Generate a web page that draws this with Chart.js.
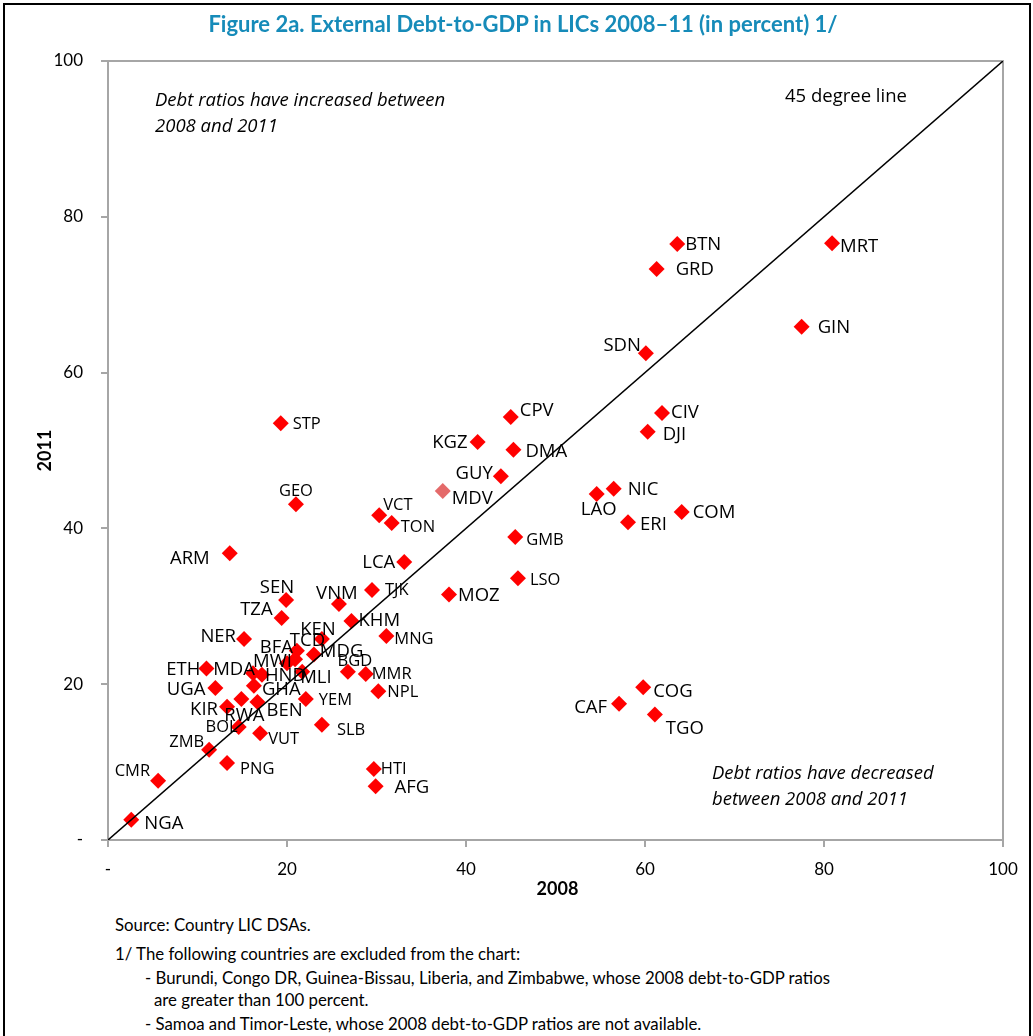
<!DOCTYPE html>
<html>
<head>
<meta charset="utf-8">
<script src="https://cdn.jsdelivr.net/npm/chart.js@4.4.0/dist/chart.umd.min.js"></script>
<style>
  body { margin: 0; background: #fff; width: 1033px; height: 1036px; overflow: hidden; position: relative; }
  #frame { position: absolute; left: 3px; top: 3px; width: 1024px; height: 1040px; border: 2px solid #000; }
  #title { position: absolute; left: 0; top: 10px; width: 1046px; text-align: center; font: bold 22px Lato, sans-serif; color: #168bb9; }
  #chart { position: absolute; left: 0; top: 0; }
  .note { position: absolute; font: 16.8px Lato, sans-serif; color: #000; white-space: nowrap; line-height: 20px; }
</style>
</head>
<body>
<div id="frame"></div>
<canvas id="chart" width="1033" height="900"></canvas>
<div id="title">Figure 2a. External Debt-to-GDP in LICs 2008–11 (in percent) 1/</div>
<div class="note" style="left:115px; top:915px;">Source: Country LIC DSAs.</div>
<div class="note" style="left:115px; top:944px;">1/ The following countries are excluded from the chart:</div>
<div class="note" style="left:145px; top:968px;">- Burundi, Congo DR, Guinea-Bissau, Liberia, and Zimbabwe, whose 2008 debt-to-GDP ratios</div>
<div class="note" style="left:154px; top:990px;">are greater than 100 percent.</div>
<div class="note" style="left:145px; top:1014px;">- Samoa and Timor-Leste, whose 2008 debt-to-GDP ratios are not available.</div>
<script>
// country codes, external debt-to-GDP 2008 (x) and 2011 (y), percent
const countries = ['BTN','MRT','GRD','GIN','SDN','CPV','CIV','DJI','KGZ','DMA','STP','GUY','MDV','NIC','LAO','GEO','VCT','TON','ERI','COM','GMB','ARM','LCA','LSO','TJK','MOZ','SEN','VNM','TZA','KHM','MNG','NER','KEN','TCD','BFA','MDG','MWI','HND','MDA','MLI','ETH','BGD','MMR','UGA','GHA','NPL','YEM','KIR','RWA','BEN','BOL','SLB','VUT','ZMB','PNG','HTI','AFG','CMR','NGA','CAF','COG','TGO'];
const debt2008 = [63.6,80.9,61.3,77.5,60.1,45.0,61.9,60.3,41.3,45.3,19.3,43.9,37.4,56.5,54.6,21.0,30.3,31.7,58.1,64.1,45.5,13.6,33.1,45.8,29.5,38.1,19.9,25.8,19.4,27.2,31.1,15.2,23.9,21.1,20.9,23.0,20.0,17.2,16.2,21.7,11.0,26.8,28.8,12.0,16.3,30.2,22.1,13.3,14.9,16.7,14.6,23.9,17.0,11.3,13.3,29.7,29.9,5.6,2.6,57.1,59.8,61.1];
const debt2011 = [76.5,76.6,73.3,65.9,62.5,54.3,54.8,52.4,51.1,50.1,53.5,46.7,44.8,45.1,44.4,43.1,41.7,40.7,40.8,42.1,38.9,36.8,35.7,33.6,32.1,31.5,30.8,30.3,28.5,28.1,26.2,25.8,25.8,24.3,23.2,23.8,22.7,21.2,21.4,21.6,22.0,21.6,21.3,19.5,19.8,19.1,18.1,17.1,18.1,17.7,14.5,14.8,13.7,11.6,9.9,9.1,6.9,7.6,2.6,17.5,19.6,16.1];
const lineX = [0, 100];
const lineY = [0, 100];
const axisTicks = [0, 20, 40, 60, 80, 100];

// label placement: [dx, dy, align, size]  (l = text starts at dx, r = text ends at dx, c = centred)
const labelPos = {
  BTN:[8,1,'l','L'], MRT:[8,3,'l','L'], GRD:[19,1,'l','L'], GIN:[16,1,'l','L'], SDN:[-5,-7,'r','L'],
  CPV:[9,-6,'l','L'], CIV:[9,0,'l','L'], DJI:[15,3,'l','L'], KGZ:[-10,1,'r','L'], DMA:[12,2,'l','L'],
  STP:[12,1,'l','s'], GUY:[-8,-2,'r','L'], MDV:[9,8,'l','L'], NIC:[14,1,'l','L'], LAO:[2,16,'c','L'],
  GEO:[0,-13,'c','s'], VCT:[4,-10,'l','s'], TON:[9,4,'l','s'], ERI:[12,3,'l','L'], COM:[11,1,'l','L'],
  GMB:[11,3,'l','s'], ARM:[-20,5,'r','L'], LCA:[-9,1,'r','L'], LSO:[12,2,'l','s'], TJK:[13,0,'l','s'],
  MOZ:[9,1,'l','L'], SEN:[8,-12,'r','L'], VNM:[-2,-10,'c','L'], TZA:[-9,-8,'r','L'], KHM:[7,0,'l','L'],
  MNG:[8,3,'l','s'], NER:[-8,-2,'r','L'], KEN:[-4,-9,'c','L'], TCD:[-7,-10,'l','L'], BFA:[-2,-12,'r','L'],
  MDG:[6,-3,'l','L'], MWI:[5,-1,'r','L'], HND:[3,1,'l','L'], MDA:[2,-4,'r','L'], MLI:[-2,6,'l','L'],
  ETH:[-6,1,'r','L'], BGD:[7,-10,'c','s'], MMR:[6,0,'l','s'], UGA:[-10,2,'r','L'], GHA:[8,4,'l','L'],
  NPL:[9,1,'l','s'], YEM:[13,1,'l','s'], KIR:[-9,3,'r','L'], RWA:[3,17,'c','L'], BEN:[9,9,'l','L'],
  BOL:[-1,0,'r','s'], SLB:[15,6,'l','s'], VUT:[8,6,'l','s'], ZMB:[-5,-7,'r','s'], PNG:[13,6,'l','s'],
  HTI:[7,0,'l','s'], AFG:[19,1,'l','L'], CMR:[-8,-9,'r','s'], NGA:[13,4,'l','L'], CAF:[-12,4,'r','L'],
  COG:[10,4,'l','L'], TGO:[11,14,'l','L']
};

const labelFont = { L: '18.5px "Open Sans", sans-serif', s: '16.5px "Open Sans", sans-serif' };

const extras = {
  id: 'extras',
  beforeDatasetsDraw(chart) {
    const { ctx, chartArea: a } = chart;
    ctx.save();
    ctx.strokeStyle = '#a6a6a6';
    ctx.lineWidth = 2;
    ctx.beginPath();
    ctx.moveTo(a.left, a.top);
    ctx.lineTo(a.right, a.top);
    ctx.lineTo(a.right, a.bottom);
    ctx.stroke();
    ctx.restore();
  },
  afterDatasetsDraw(chart) {
    const { ctx, chartArea: a } = chart;
    const meta = chart.getDatasetMeta(1);
    ctx.save();
    ctx.fillStyle = '#000';
    ctx.textBaseline = 'middle';
    meta.data.forEach((pt, i) => {
      const p = labelPos[countries[i]];
      ctx.font = labelFont[p[3]];
      ctx.textAlign = p[2] === 'l' ? 'left' : p[2] === 'r' ? 'right' : 'center';
      ctx.fillText(countries[i], pt.x + p[0], pt.y + p[1]);
    });

    ctx.textAlign = 'left';
    ctx.font = 'italic 18.5px "Open Sans", sans-serif';
    ctx.fillText('Debt ratios have increased between', a.left + 47, a.top + 40);
    ctx.fillText('2008 and 2011', a.left + 47, a.top + 66);
    ctx.fillText('Debt ratios have decreased', a.left + 604, a.top + 713);
    ctx.fillText('between 2008 and 2011', a.left + 604, a.top + 739);
    ctx.font = '18.5px "Open Sans", sans-serif';
    ctx.fillText('45 degree line', a.left + 677, a.top + 36);

    // axis titles
    ctx.font = 'bold 18px Lato, sans-serif';
    ctx.textAlign = 'center';
    ctx.fillText('2008', (a.left + a.right) / 2 + 2, a.bottom + 49);
    ctx.translate(45, (a.top + a.bottom) / 2 + 0);
    ctx.rotate(-Math.PI / 2);
    ctx.fillText('2011', 0, 0);
    ctx.restore();
  }
};

const ctx = document.getElementById('chart').getContext('2d');
new Chart(ctx, {
  type: 'scatter',
  data: {
    datasets: [
      {
        label: '45 degree line',
        data: lineX.map((x, i) => ({ x: x, y: lineY[i] })),
        showLine: true,
        borderColor: '#000',
        borderWidth: 1.5,
        pointRadius: 0
      },
      {
        label: 'Countries',
        data: debt2008.map((x, i) => ({ x: x, y: debt2011[i] })),
        pointStyle: 'rectRot',
        pointRadius: 8,
        pointBorderWidth: 0,
        pointBackgroundColor: countries.map(c => c === 'MDV' ? '#e46a6a' : '#ff0000'),
        pointBorderColor: countries.map(c => c === 'MDV' ? '#e46a6a' : '#ff0000')
      }
    ]
  },
  options: {
    responsive: false,
    animation: false,
    devicePixelRatio: 1,
    layout: { padding: { top: 61, right: 30, left: 0, bottom: 0 } },
    plugins: { legend: { display: false }, tooltip: { enabled: false } },
    scales: {
      x: {
        type: 'linear', min: 0, max: 100,
        afterBuildTicks: s => { s.ticks = axisTicks.map(v => ({ value: v })); },
        afterFit: s => { s.height = 60; },
        ticks: {
          callback: v => v === 0 ? '-' : v,
          font: { family: 'Lato', size: 17 },
          color: '#000',
          padding: 12,
          maxRotation: 0
        },
        grid: { drawOnChartArea: false, tickLength: 7, color: '#a6a6a6', lineWidth: 2 },
        border: { color: '#a6a6a6', width: 2 }
      },
      y: {
        type: 'linear', min: 0, max: 100,
        afterBuildTicks: s => { s.ticks = axisTicks.map(v => ({ value: v })); },
        afterFit: s => { s.width = 108; },
        ticks: {
          callback: v => v === 0 ? '-' : v,
          font: { family: 'Lato', size: 17 },
          color: '#000',
          padding: 18
        },
        grid: { drawOnChartArea: false, tickLength: 7, color: '#a6a6a6', lineWidth: 2 },
        border: { color: '#a6a6a6', width: 2 }
      }
    }
  },
  plugins: [extras]
});
</script>
</body>
</html>
